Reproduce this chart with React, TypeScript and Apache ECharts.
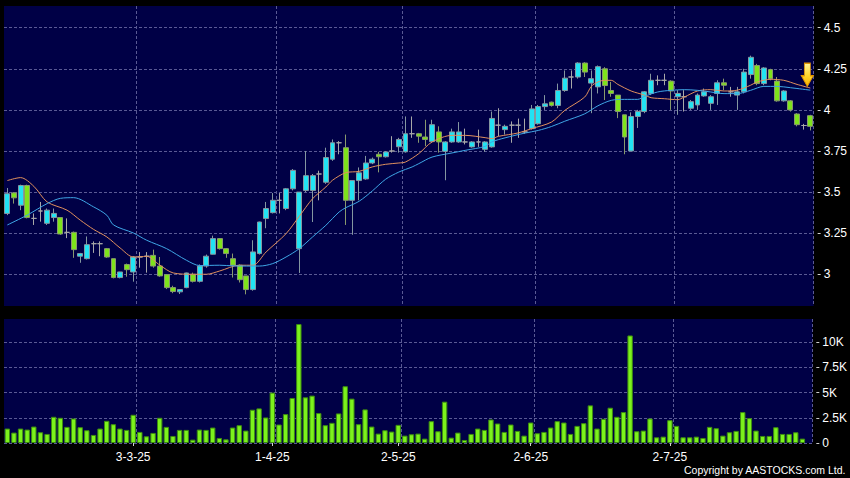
import React, { useEffect, useRef } from "react";
import * as echarts from "echarts";

// [open, close, low, high]
const candles: number[][] = [
  [3.37, 3.49, 3.36, 3.525], [3.495, 3.465, 3.43, 3.5], [3.42, 3.54, 3.39, 3.545], [3.54, 3.345, 3.34, 3.545],
  [3.34, 3.34, 3.3, 3.37], [3.385, 3.385, 3.32, 3.44], [3.31, 3.39, 3.3, 3.4], [3.345, 3.37, 3.32, 3.4],
  [3.345, 3.245, 3.24, 3.345], [3.255, 3.255, 3.22, 3.34], [3.255, 3.15, 3.1, 3.26], [3.11, 3.126, 3.07, 3.13],
  [3.095, 3.18, 3.09, 3.23], [3.186, 3.186, 3.13, 3.2], [3.186, 3.186, 3.11, 3.2], [3.156, 3.105, 3.1, 3.16],
  [3.095, 2.98, 2.975, 3.095], [2.98, 3.014, 2.975, 3.015], [3.059, 3.028, 2.985, 3.065], [3.014, 3.105, 2.955, 3.11],
  [3.105, 3.105, 3.04, 3.135], [3.11, 3.11, 3.01, 3.135], [3.115, 3.05, 3.04, 3.15], [3.05, 2.99, 2.985, 3.105],
  [2.998, 2.919, 2.91, 3.0], [2.919, 2.895, 2.885, 2.93], [2.893, 2.907, 2.88, 2.91], [2.919, 3.008, 2.915, 3.01],
  [3.0, 2.957, 2.95, 3.01], [2.957, 3.05, 2.95, 3.06], [3.05, 3.11, 3.04, 3.12], [3.122, 3.217, 3.12, 3.235],
  [3.217, 3.156, 3.15, 3.22], [3.156, 3.126, 3.1, 3.16], [3.095, 3.055, 2.98, 3.126], [3.055, 2.967, 2.95, 3.06],
  [2.99, 2.907, 2.878, 2.99], [2.907, 3.136, 2.9, 3.207], [3.126, 3.318, 3.12, 3.32], [3.339, 3.4, 3.28, 3.44],
  [3.375, 3.45, 3.37, 3.494], [3.45, 3.45, 3.37, 3.494], [3.4, 3.52, 3.39, 3.525], [3.52, 3.632, 3.51, 3.64],
  [3.156, 3.5, 3.008, 3.5], [3.51, 3.6, 3.5, 3.75], [3.51, 3.6, 3.318, 3.61], [3.61, 3.61, 3.45, 3.63],
  [3.56, 3.71, 3.55, 3.77], [3.7, 3.8, 3.69, 3.82], [3.8, 3.8, 3.73, 3.81], [3.77, 3.45, 3.3, 3.85],
  [3.45, 3.57, 3.24, 3.57], [3.57, 3.617, 3.45, 3.65], [3.58, 3.677, 3.575, 3.72], [3.677, 3.7, 3.67, 3.71],
  [3.73, 3.715, 3.62, 3.745], [3.715, 3.744, 3.71, 3.75], [3.75, 3.75, 3.74, 3.84], [3.776, 3.82, 3.74, 3.83],
  [3.745, 3.855, 3.74, 3.96], [3.855, 3.855, 3.83, 3.96], [3.855, 3.84, 3.8, 3.86], [3.835, 3.82, 3.78, 3.94],
  [3.807, 3.91, 3.8, 3.94], [3.866, 3.805, 3.74, 3.9], [3.748, 3.805, 3.572, 3.81], [3.805, 3.866, 3.8, 3.886],
  [3.805, 3.866, 3.8, 3.926], [3.805, 3.805, 3.79, 3.886], [3.775, 3.805, 3.77, 3.81], [3.805, 3.805, 3.775, 3.88],
  [3.76, 3.805, 3.745, 3.81], [3.775, 3.948, 3.77, 3.99], [3.907, 3.907, 3.84, 4.01], [3.88, 3.9, 3.85, 3.91],
  [3.907, 3.907, 3.8, 3.93], [3.907, 3.907, 3.83, 3.947], [3.866, 3.866, 3.855, 3.947], [3.886, 4.006, 3.88, 4.03],
  [3.916, 4.02, 3.91, 4.03], [4.02, 4.037, 4.0, 4.09], [4.047, 4.027, 4.02, 4.05], [4.027, 4.118, 4.01, 4.16],
  [4.118, 4.193, 4.11, 4.24], [4.2, 4.2, 4.13, 4.24], [4.2, 4.285, 4.19, 4.29], [4.285, 4.23, 4.2, 4.29],
  [4.163, 4.19, 3.98, 4.24], [4.14, 4.263, 4.1, 4.27], [4.25, 4.148, 4.06, 4.26], [4.118, 4.1, 4.08, 4.17],
  [4.09, 3.99, 3.95, 4.09], [3.97, 3.835, 3.73, 3.97], [3.75, 3.96, 3.75, 3.985], [3.96, 3.99, 3.89, 4.0],
  [3.99, 4.11, 3.98, 4.115], [4.1, 4.18, 4.09, 4.22], [4.18, 4.18, 4.15, 4.21], [4.18, 4.18, 4.15, 4.22],
  [4.175, 4.115, 4.0, 4.18], [4.08, 4.1, 3.97, 4.12], [4.08, 4.08, 3.99, 4.12], [4.01, 4.05, 4.0, 4.06],
  [4.03, 4.09, 4.0, 4.1], [4.085, 4.11, 4.08, 4.13], [4.04, 4.08, 4.0, 4.09], [4.1, 4.165, 4.03, 4.18],
  [4.165, 4.15, 4.12, 4.19], [4.11, 4.11, 4.08, 4.14], [4.09, 4.11, 4.0, 4.14], [4.11, 4.23, 4.1, 4.25],
  [4.215, 4.32, 4.19, 4.33], [4.27, 4.16, 4.15, 4.28], [4.16, 4.255, 4.15, 4.26], [4.245, 4.19, 4.18, 4.25],
  [4.175, 4.055, 4.05, 4.2], [4.055, 4.115, 4.05, 4.12], [4.055, 4.0, 3.99, 4.06], [3.975, 3.91, 3.9, 3.98],
  [3.905, 3.905, 3.88, 3.915], [3.965, 3.9, 3.875, 3.97],
];

const volumes: (number | null)[] = [
  1433, 1033, 1433, 1333, 1633, 1067, 900, 2600, 2500, 1600, 2433, 1567, 1267, 800, 1433, 2200, 1867, 1433, 1300, 2800,
  1100, 667, 1000, 2500, 1600, 700, 1300, 1300, 333, 1333, 1300, 1533, 500, 367, 1533, 1767, 1233, 3300, 3433, 2533,
  5000, 1833, 2867, 4467, 11800, 4533, 4700, 2967, 1767, 2000, 2933, 5633, 4400, 1867, 3333, 1633, 933, 1267, 1133, 1800,
  733, 867, 933, 433, 2167, 1167, 4100, 533, 1033, 300, 900, 1433, 1300, 2333, 1933, 1100, 1833, 1200, 733, 2033,
  967, 1100, 1533, 2167, 2033, 900, 1700, 1967, 3733, 1433, 2400, 3500, 2600, 3067, 10667, 1167, 1233, 2433, 567, 633,
  2267, 1700, 567, 567, 633, 500, 1600, 1467, 733, 1067, 1200, 3067, 2467, 1233, 700, 700, 1567, 900, 900, 1067,
  433, null,
];

// moving averages: [candle index, value]
const maOrange: number[][] = [
  [0, 3.57], [2, 3.588], [4, 3.535], [6, 3.44], [9, 3.39], [11, 3.329], [13, 3.273], [15, 3.227], [17, 3.16],
  [19, 3.105], [21, 3.109], [23, 3.055], [25, 3.008], [28, 3.0], [30, 3.0], [32, 3.02], [35, 3.055], [37, 3.055],
  [39, 3.136], [42, 3.247], [44, 3.353], [46, 3.46], [48, 3.531], [49, 3.572], [51, 3.618], [53, 3.626], [55, 3.653],
  [57, 3.669], [59, 3.677], [60, 3.683], [62, 3.734], [64, 3.805], [67, 3.845], [69, 3.845], [72, 3.831], [73, 3.825],
  [74, 3.839], [77, 3.86], [79, 3.886], [82, 3.926], [84, 3.997], [87, 4.078], [88, 4.143], [89, 4.17], [90, 4.18],
  [91, 4.18], [92, 4.155], [94, 4.115], [96, 4.09], [97, 4.074], [99, 4.068], [101, 4.062], [102, 4.078], [104, 4.115],
  [106, 4.123], [108, 4.115], [110, 4.12], [112, 4.15], [113, 4.17], [115, 4.186], [117, 4.18], [119, 4.155], [121, 4.133],
];
const maBlue: number[][] = [
  [0, 3.3], [3, 3.36], [6, 3.43], [8, 3.462], [10, 3.466], [13, 3.41], [15, 3.359], [16, 3.3], [19, 3.251], [21, 3.207],
  [24, 3.156], [27, 3.085], [29, 3.053], [32, 3.055], [34, 3.051], [36, 3.05], [38, 3.05], [40, 3.065], [42, 3.105],
  [44, 3.156], [46, 3.227], [48, 3.298], [50, 3.379], [51, 3.405], [53, 3.444], [55, 3.507], [57, 3.578], [59, 3.622],
  [61, 3.653], [62, 3.673], [64, 3.713], [67, 3.738], [69, 3.754], [72, 3.778], [73, 3.805], [75, 3.83], [78, 3.859],
  [80, 3.875], [82, 3.899], [84, 3.931], [87, 3.976], [89, 4.025], [91, 4.058], [93, 4.064], [95, 4.064], [96, 4.082],
  [98, 4.109], [100, 4.119], [102, 4.123], [104, 4.119], [106, 4.109], [108, 4.099], [110, 4.099], [112, 4.119],
  [114, 4.143], [116, 4.143], [118, 4.135], [121, 4.12],
];

const xTickLabels = ["3-3-25", "1-4-25", "2-5-25", "2-6-25", "2-7-25"];
const xTickIndex = [19, 40, 59, 79, 100];
const xGridIndex = [20, 41, 60, 80, 101];
const priceTicks = [3, 3.25, 3.5, 3.75, 4, 4.25, 4.5];
const volumeTicks = [0, 2500, 5000, 7500, 10000];
const arrowMark = { index: 121, value: 4.214 };

const NAVY = "#000046";
const GRID_LINE = { color: "#5a5a94", width: 1, type: [3, 2] as number[] };
const FONT = "Liberation Sans, Arial, sans-serif";

function sparse(points: number[][], n: number): (number | null)[] {
  const arr: (number | null)[] = new Array(n).fill(null);
  points.forEach(([i, v]) => {
    arr[i] = v;
  });
  return arr;
}

export default function App() {
  const ref = useRef<HTMLDivElement>(null);
  useEffect(() => {
    document.body.style.margin = "0";
    document.body.style.background = "#000";
    if (!ref.current) return;
    const chart = echarts.init(ref.current, null, { renderer: "svg" });
    const n = candles.length;
    const cats = candles.map((_, i) => String(i));
    const tickLabelMap: Record<number, string> = {};
    xTickIndex.forEach((idx, k) => (tickLabelMap[idx] = xTickLabels[k]));
    const isTick = (i: number) => tickLabelMap[i] !== undefined;
    const isGrid = (i: number) => xGridIndex.indexOf(i) >= 0;

    const yAxisCommon = {
      position: "right",
      offset: 4,
      axisLine: { show: false },
      axisTick: { show: true, length: 3, lineStyle: { color: "#d0d0d0" } },
      splitLine: { show: true, lineStyle: GRID_LINE },
    };

    const option: any = {
      animation: false,
      backgroundColor: "#000000",
      textStyle: { fontFamily: FONT },
      grid: [
        { left: 4, top: 6, width: 810, height: 300, show: true, backgroundColor: NAVY, borderWidth: 0 },
        { left: 4, top: 319, width: 810, height: 124, show: true, backgroundColor: NAVY, borderWidth: 0 },
      ],
      xAxis: [
        {
          type: "category",
          gridIndex: 0,
          data: cats,
          boundaryGap: true,
          axisLine: { show: false },
          axisTick: { show: false },
          axisLabel: { show: false },
          splitLine: { show: true, interval: (i: number) => isGrid(i), lineStyle: GRID_LINE },
        },
        {
          type: "category",
          gridIndex: 1,
          data: cats,
          boundaryGap: true,
          offset: 3,
          axisLine: { show: false },
          axisTick: {
            show: true,
            alignWithLabel: true,
            interval: (i: number) => isTick(i),
            length: 3,
            lineStyle: { color: "#d0d0d0" },
          },
          axisLabel: {
            show: true,
            interval: (i: number) => isTick(i),
            formatter: (_v: string, i: number) => tickLabelMap[i] || "",
            color: "#ffffff",
            fontSize: 12,
            fontFamily: FONT,
            margin: 5,
          },
          splitLine: { show: true, interval: (i: number) => isGrid(i), lineStyle: GRID_LINE },
        },
      ],
      yAxis: [
        {
          ...yAxisCommon,
          type: "value",
          gridIndex: 0,
          min: 2.807,
          max: 4.632,
          axisTick: { ...yAxisCommon.axisTick, customValues: priceTicks },
          axisLabel: {
            customValues: priceTicks,
            formatter: (v: number) => String(v),
            color: "#ffffff",
            fontSize: 12,
            fontFamily: FONT,
            margin: 6,
          },
        },
        {
          ...yAxisCommon,
          type: "value",
          gridIndex: 1,
          min: 0,
          max: 12300,
          axisTick: { ...yAxisCommon.axisTick, customValues: volumeTicks },
          axisLabel: {
            customValues: volumeTicks,
            formatter: (v: number) => (v === 0 ? "0" : v / 1000 + "K"),
            color: "#ffffff",
            fontSize: 12,
            fontFamily: FONT,
            margin: 6,
          },
        },
      ],
      series: [
        {
          type: "candlestick",
          xAxisIndex: 0,
          yAxisIndex: 0,
          data: candles,
          barWidth: 5.4,
          itemStyle: {
            color: "#22E3F3",
            color0: "#7EE31B",
            borderColor: "#8497a0",
            borderColor0: "#88996e",
            borderColorDoji: "#a8a8a8",
            borderWidth: 1,
          },
          markPoint: {
            symbol: "path://M3,0 L9,0 L9,12 L12,12 L6,22 L0,12 L3,12 Z",
            symbolSize: [12, 23],
            symbolOffset: [-3, 0],
            symbolKeepAspect: false,
            label: { show: false },
            itemStyle: {
              color: new echarts.graphic.LinearGradient(0, 0, 0, 1, [
                { offset: 0, color: "#FFF59A" },
                { offset: 0.55, color: "#FFD82A" },
                { offset: 1, color: "#F5B000" },
              ]),
              borderColor: "#E09400",
              borderWidth: 1,
            },
            data: [{ coord: [cats[arrowMark.index], arrowMark.value] }],
          },
          z: 3,
        },
        {
          type: "line",
          xAxisIndex: 0,
          yAxisIndex: 0,
          data: sparse(maOrange, n),
          connectNulls: true,
          smooth: 0.3,
          showSymbol: false,
          lineStyle: { color: "#E0905E", width: 1 },
          z: 4,
        },
        {
          type: "line",
          xAxisIndex: 0,
          yAxisIndex: 0,
          data: sparse(maBlue, n),
          connectNulls: true,
          smooth: 0.3,
          showSymbol: false,
          lineStyle: { color: "#3FA6E6", width: 1 },
          z: 4,
        },
        {
          type: "bar",
          xAxisIndex: 1,
          yAxisIndex: 1,
          data: volumes,
          barWidth: 5.4,
          itemStyle: { color: "#7CF21C", borderColor: "#3D8C10", borderWidth: 1 },
        },
      ],
      graphic: [
        {
          type: "text",
          right: 4,
          bottom: 3,
          style: { text: "Copyright by AASTOCKS.com Ltd.", fill: "#ffffff", font: "10.5px " + FONT },
        },
      ],
    };
    chart.setOption(option);
    return () => chart.dispose();
  }, []);
  return <div ref={ref} style={{ width: 850, height: 478, background: "#000" }} />;
}
